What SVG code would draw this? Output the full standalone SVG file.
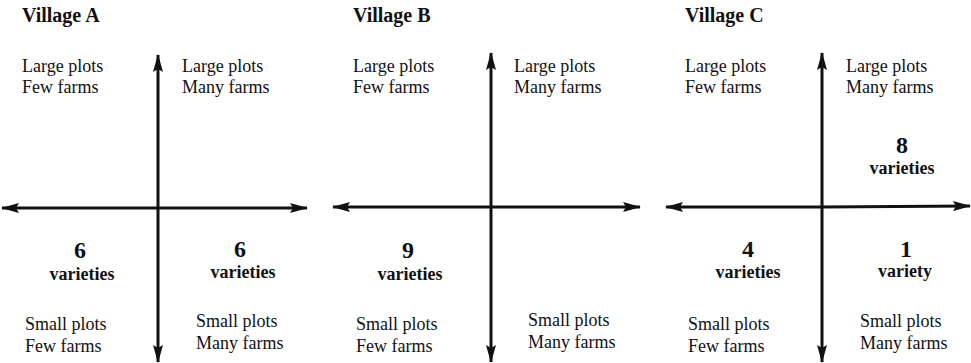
<svg xmlns="http://www.w3.org/2000/svg" width="971" height="363" viewBox="0 0 971 363">
<style>
text{font-family:"Liberation Serif","Times New Roman",Times,"DejaVu Serif",serif;fill:#111}
.t{font-size:18px}
.h{font-size:20px;font-weight:bold}
.n{font-size:24px;font-weight:bold;text-anchor:middle}
.v{font-size:18px;font-weight:bold;text-anchor:middle}
.ax{stroke:#111;stroke-width:3;fill:none}
</style>
<defs>
<marker id="ah" viewBox="0 0 18 10" refX="17" refY="5" markerWidth="18" markerHeight="10" markerUnits="userSpaceOnUse" orient="auto">
<path d="M0,0 L18,5 L0,10 L3,5 Z" fill="#111"/>
</marker>
</defs>
<g id="connectors">
<line class="ax" x1="158" y1="208" x2="158" y2="55" marker-end="url(#ah)"/>
<line class="ax" x1="158" y1="208" x2="158" y2="362" marker-end="url(#ah)"/>
<line class="ax" x1="158" y1="208" x2="2" y2="208" marker-end="url(#ah)"/>
<line class="ax" x1="158" y1="208" x2="307" y2="208" marker-end="url(#ah)"/>
<line class="ax" x1="491" y1="207" x2="491" y2="53" marker-end="url(#ah)"/>
<line class="ax" x1="491" y1="207" x2="491" y2="362" marker-end="url(#ah)"/>
<line class="ax" x1="491" y1="207" x2="333" y2="207" marker-end="url(#ah)"/>
<line class="ax" x1="491" y1="207" x2="640" y2="207" marker-end="url(#ah)"/>
<line class="ax" x1="822" y1="207" x2="822" y2="53" marker-end="url(#ah)"/>
<line class="ax" x1="822" y1="207" x2="822" y2="362" marker-end="url(#ah)"/>
<line class="ax" x1="822" y1="207" x2="666" y2="207" marker-end="url(#ah)"/>
<line class="ax" x1="822" y1="207" x2="970" y2="206" marker-end="url(#ah)"/>
</g>
<g id="villageA">
<text class="h" x="22" y="22">Village A</text>
<text class="t" x="22" y="72">Large plots</text>
<text class="t" x="22" y="93">Few farms</text>
<text class="t" x="182" y="72">Large plots</text>
<text class="t" x="182" y="93">Many farms</text>
<text class="n" x="80" y="258">6</text>
<text class="v" x="82" y="280">varieties</text>
<text class="n" x="240" y="257">6</text>
<text class="v" x="243" y="278">varieties</text>
<text class="t" x="25" y="330">Small plots</text>
<text class="t" x="25" y="352">Few farms</text>
<text class="t" x="196" y="327">Small plots</text>
<text class="t" x="196" y="349">Many farms</text>
</g>
<g id="villageB">
<text class="h" x="353" y="22">Village B</text>
<text class="t" x="353" y="72">Large plots</text>
<text class="t" x="353" y="93">Few farms</text>
<text class="t" x="514" y="72">Large plots</text>
<text class="t" x="514" y="93">Many farms</text>
<text class="n" x="408" y="258">9</text>
<text class="v" x="410" y="280">varieties</text>
<text class="t" x="356" y="330">Small plots</text>
<text class="t" x="356" y="352">Few farms</text>
<text class="t" x="528" y="326">Small plots</text>
<text class="t" x="528" y="348">Many farms</text>
</g>
<g id="villageC">
<text class="h" x="685" y="22">Village C</text>
<text class="t" x="685" y="72">Large plots</text>
<text class="t" x="685" y="93">Few farms</text>
<text class="t" x="846" y="72">Large plots</text>
<text class="t" x="846" y="93">Many farms</text>
<text class="n" x="902" y="153">8</text>
<text class="v" x="902" y="174">varieties</text>
<text class="n" x="748" y="257">4</text>
<text class="v" x="748" y="278">varieties</text>
<text class="n" x="906" y="257">1</text>
<text class="v" x="905" y="277">variety</text>
<text class="t" x="688" y="330">Small plots</text>
<text class="t" x="688" y="352">Few farms</text>
<text class="t" x="860" y="327">Small plots</text>
<text class="t" x="860" y="349">Many farms</text>
</g>
</svg>
